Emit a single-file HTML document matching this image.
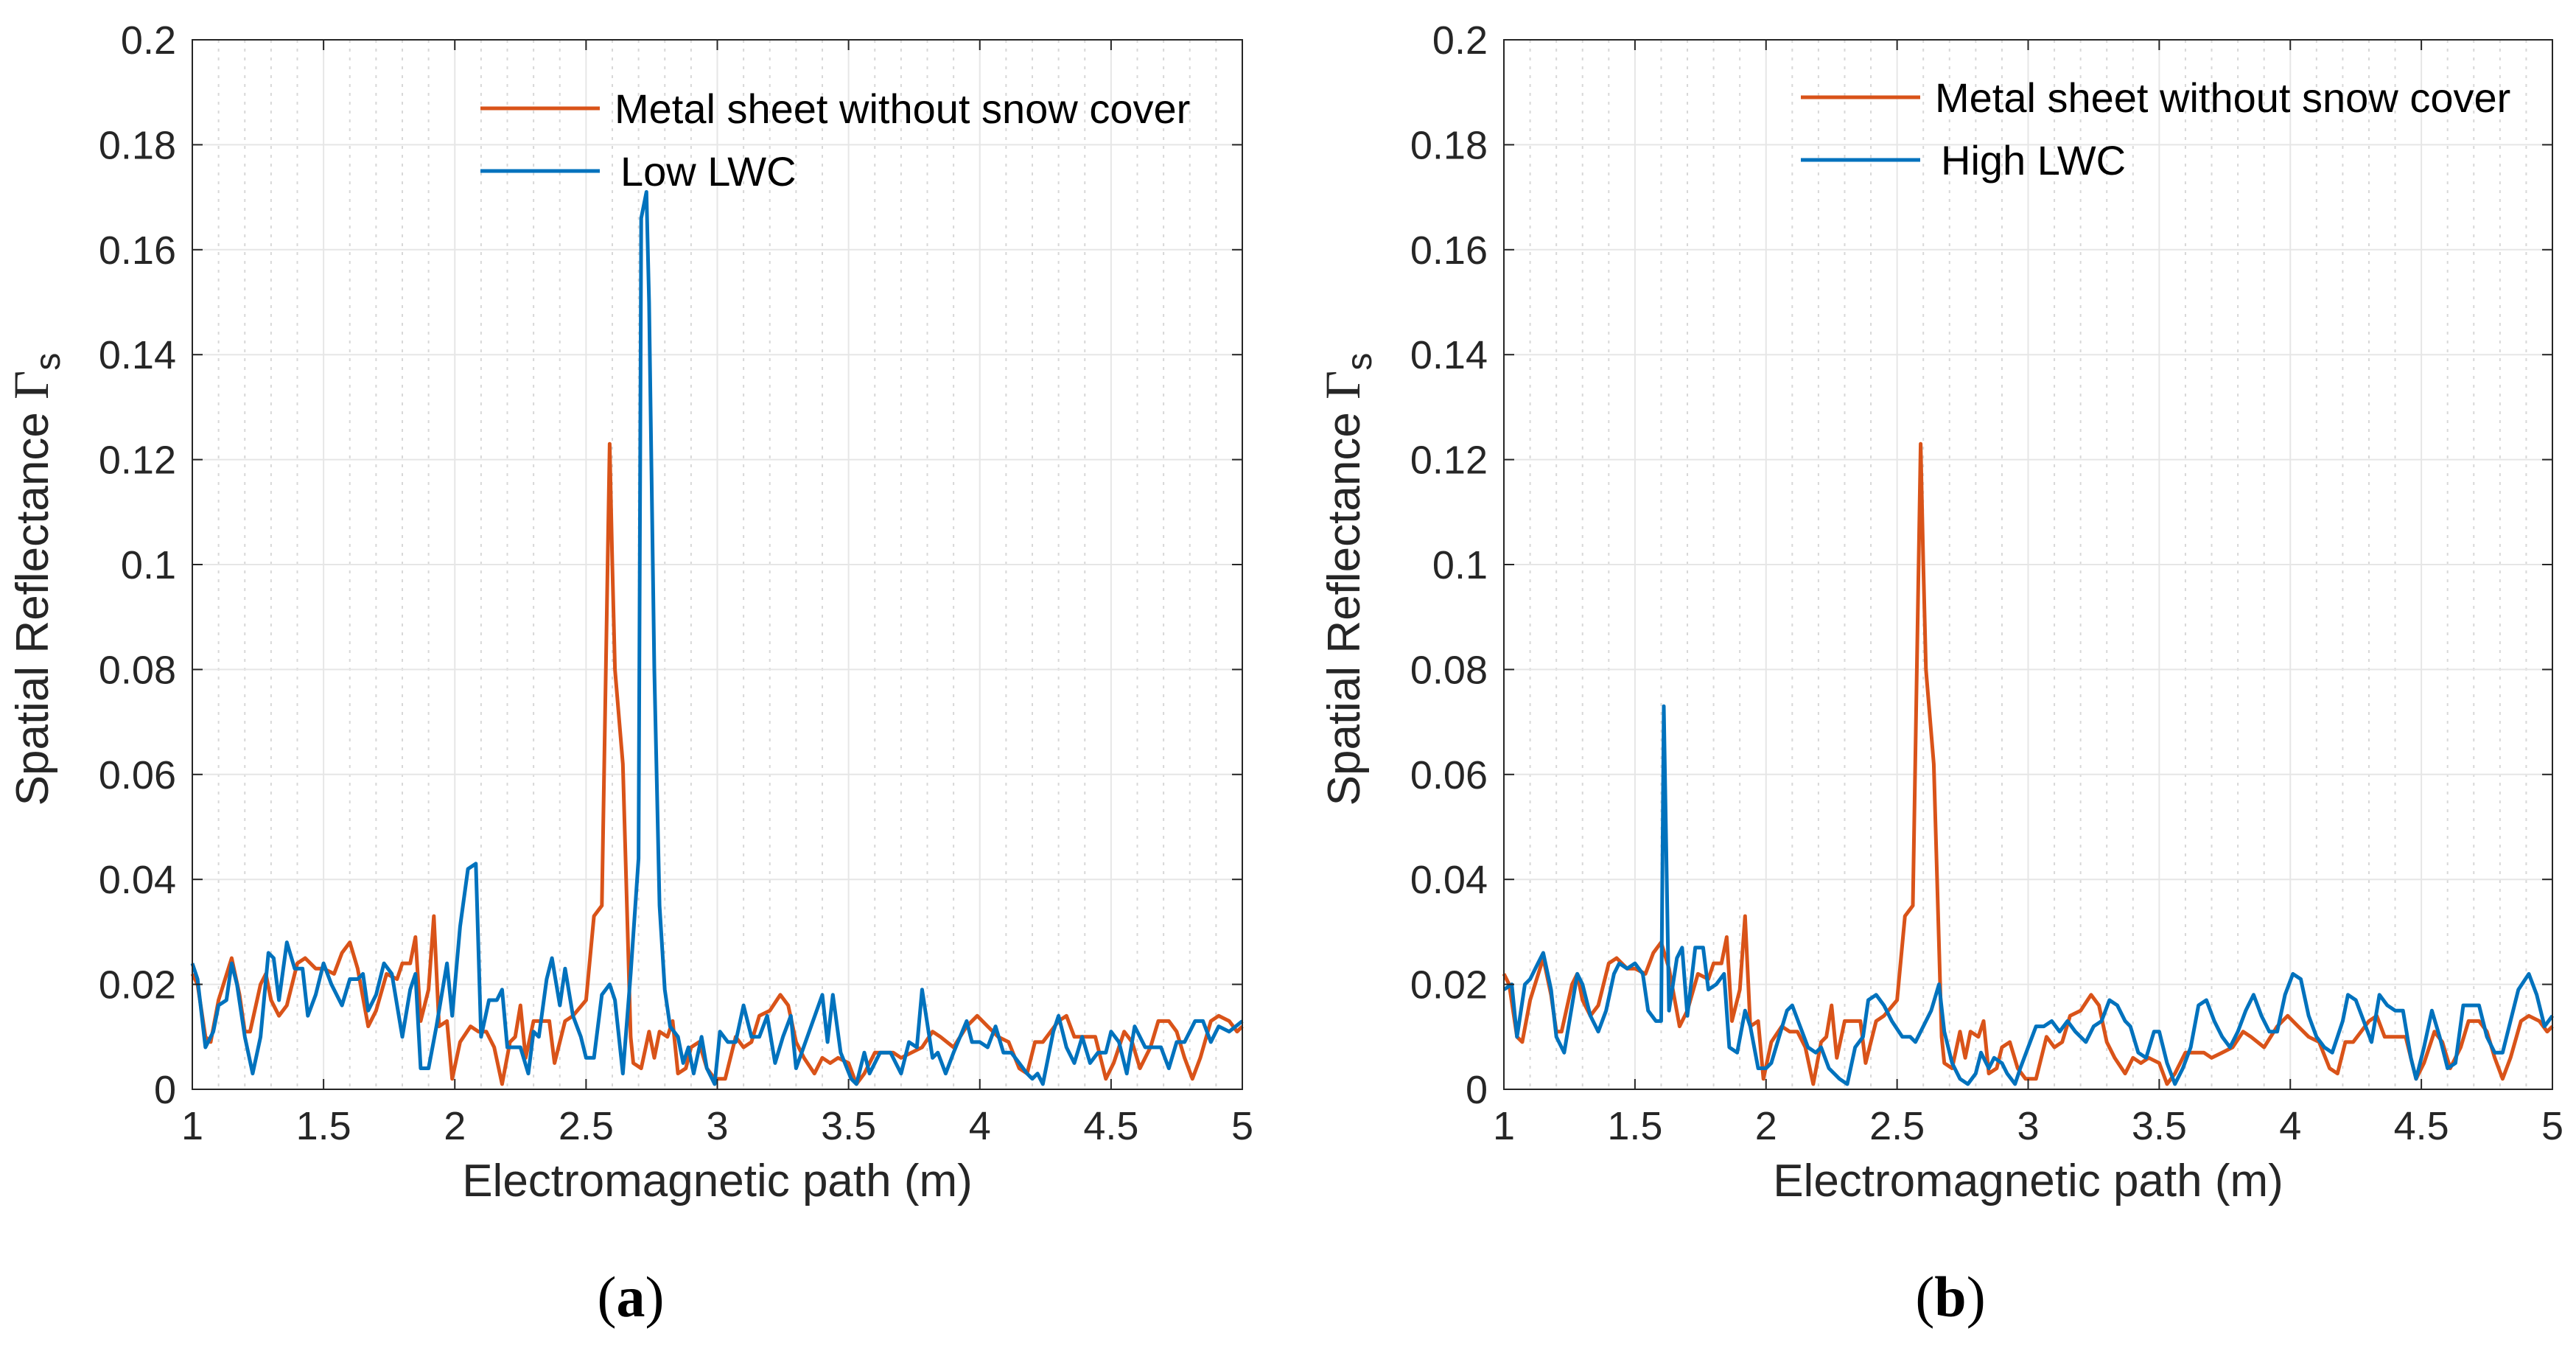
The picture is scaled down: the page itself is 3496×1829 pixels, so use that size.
<!DOCTYPE html>
<html><head><meta charset="utf-8"><style>
html,body{margin:0;padding:0;background:#fff;}
svg{display:block;font-family:"Liberation Sans",Arial,sans-serif;}
</style></head><body>
<svg id="fig" width="3496" height="1829" viewBox="0 0 3496 1829" xmlns="http://www.w3.org/2000/svg">
<rect width="3496" height="1829" fill="#fff"/>
</svg>
<script>
const xTicks=[1,1.5,2,2.5,3,3.5,4,4.5,5];
const xTickLabels=["1","1.5","2","2.5","3","3.5","4","4.5","5"];
const yTicks=[0,0.02,0.04,0.06,0.08,0.1,0.12,0.14,0.16,0.18,0.2];
const yTickLabels=["0","0.02","0.04","0.06","0.08","0.1","0.12","0.14","0.16","0.18","0.2"];

const metalX=[1.0,1.02,1.05,1.07,1.1,1.15,1.18,1.2,1.22,1.26,1.28,1.3,1.33,1.36,1.4,1.43,1.47,1.5,1.54,1.57,1.6,1.63,1.67,1.7,1.74,1.78,1.8,1.83,1.85,1.87,1.9,1.92,1.94,1.97,1.99,2.02,2.06,2.09,2.12,2.15,2.18,2.21,2.23,2.25,2.27,2.3,2.33,2.36,2.38,2.42,2.45,2.5,2.53,2.56,2.59,2.6,2.61,2.64,2.67,2.68,2.71,2.74,2.76,2.78,2.81,2.83,2.85,2.88,2.9,2.93,2.96,2.99,3.03,3.07,3.1,3.13,3.16,3.2,3.24,3.27,3.3,3.33,3.37,3.4,3.43,3.46,3.5,3.53,3.56,3.6,3.64,3.67,3.7,3.74,3.78,3.82,3.85,3.9,3.95,3.99,4.03,4.07,4.11,4.15,4.18,4.21,4.24,4.27,4.3,4.33,4.36,4.4,4.44,4.48,4.51,4.55,4.58,4.61,4.65,4.68,4.72,4.75,4.78,4.81,4.84,4.88,4.91,4.95,4.98,5.0];
const metalY=[0.022,0.020,0.010,0.009,0.017,0.025,0.018,0.011,0.011,0.020,0.022,0.017,0.014,0.016,0.024,0.025,0.023,0.023,0.022,0.026,0.028,0.023,0.012,0.015,0.022,0.021,0.024,0.024,0.029,0.013,0.019,0.033,0.012,0.013,0.002,0.009,0.012,0.011,0.011,0.008,0.001,0.009,0.010,0.016,0.006,0.013,0.013,0.013,0.005,0.013,0.014,0.017,0.033,0.035,0.123,0.100,0.080,0.062,0.010,0.005,0.004,0.011,0.006,0.011,0.010,0.013,0.003,0.004,0.008,0.009,0.004,0.002,0.002,0.010,0.008,0.009,0.014,0.015,0.018,0.016,0.009,0.006,0.003,0.006,0.005,0.006,0.005,0.001,0.003,0.007,0.007,0.007,0.006,0.007,0.008,0.011,0.010,0.008,0.012,0.014,0.012,0.010,0.009,0.004,0.003,0.009,0.009,0.011,0.013,0.014,0.010,0.010,0.010,0.002,0.005,0.011,0.009,0.004,0.008,0.013,0.013,0.011,0.006,0.002,0.006,0.013,0.014,0.013,0.011,0.012];

const lowX=[1.0,1.02,1.05,1.08,1.1,1.13,1.15,1.17,1.2,1.23,1.26,1.29,1.31,1.33,1.36,1.39,1.42,1.44,1.47,1.5,1.53,1.57,1.6,1.63,1.65,1.67,1.7,1.73,1.76,1.8,1.83,1.85,1.87,1.9,1.93,1.97,1.99,2.02,2.05,2.08,2.1,2.13,2.16,2.18,2.2,2.23,2.25,2.28,2.3,2.32,2.35,2.37,2.4,2.42,2.45,2.48,2.5,2.53,2.56,2.59,2.61,2.64,2.67,2.7,2.71,2.73,2.74,2.76,2.78,2.8,2.82,2.85,2.87,2.89,2.91,2.94,2.96,2.99,3.01,3.04,3.07,3.1,3.13,3.16,3.19,3.22,3.25,3.28,3.3,3.35,3.4,3.42,3.44,3.47,3.51,3.53,3.56,3.58,3.62,3.66,3.7,3.73,3.76,3.78,3.82,3.84,3.87,3.9,3.95,3.97,4.0,4.03,4.06,4.09,4.12,4.15,4.18,4.2,4.22,4.24,4.28,4.3,4.33,4.36,4.39,4.42,4.45,4.48,4.5,4.53,4.56,4.59,4.63,4.66,4.69,4.72,4.75,4.78,4.82,4.85,4.88,4.91,4.95,5.0];
const lowY=[0.024,0.021,0.008,0.011,0.016,0.017,0.024,0.020,0.010,0.003,0.010,0.026,0.025,0.017,0.028,0.023,0.023,0.014,0.018,0.024,0.020,0.016,0.021,0.021,0.022,0.015,0.018,0.024,0.022,0.010,0.019,0.022,0.004,0.004,0.012,0.024,0.014,0.031,0.042,0.043,0.010,0.017,0.017,0.019,0.008,0.008,0.008,0.003,0.011,0.010,0.021,0.025,0.016,0.023,0.014,0.010,0.006,0.006,0.018,0.020,0.017,0.003,0.022,0.044,0.166,0.171,0.150,0.080,0.035,0.019,0.012,0.010,0.005,0.008,0.003,0.010,0.004,0.001,0.011,0.009,0.009,0.016,0.010,0.010,0.014,0.005,0.010,0.014,0.004,0.011,0.018,0.009,0.018,0.007,0.002,0.001,0.007,0.003,0.007,0.007,0.003,0.009,0.008,0.019,0.006,0.007,0.003,0.007,0.013,0.009,0.009,0.008,0.012,0.007,0.007,0.005,0.003,0.002,0.003,0.001,0.011,0.014,0.008,0.005,0.010,0.005,0.007,0.007,0.011,0.009,0.003,0.012,0.008,0.008,0.008,0.004,0.009,0.009,0.013,0.013,0.009,0.012,0.011,0.013];

const highX=[1.0,1.03,1.05,1.08,1.1,1.13,1.15,1.18,1.2,1.23,1.26,1.28,1.3,1.33,1.36,1.39,1.42,1.44,1.47,1.5,1.53,1.55,1.58,1.6,1.61,1.63,1.66,1.68,1.7,1.73,1.76,1.78,1.81,1.84,1.86,1.89,1.92,1.94,1.97,2.0,2.02,2.05,2.08,2.1,2.13,2.16,2.19,2.21,2.24,2.28,2.31,2.34,2.37,2.39,2.42,2.45,2.48,2.52,2.55,2.57,2.6,2.63,2.66,2.68,2.71,2.74,2.77,2.8,2.82,2.85,2.87,2.9,2.92,2.95,2.97,3.0,3.03,3.06,3.09,3.12,3.15,3.18,3.22,3.25,3.28,3.31,3.34,3.37,3.39,3.42,3.45,3.48,3.5,3.53,3.56,3.59,3.62,3.65,3.68,3.71,3.74,3.77,3.8,3.83,3.86,3.89,3.92,3.95,3.98,4.01,4.04,4.07,4.1,4.13,4.16,4.2,4.22,4.25,4.28,4.31,4.34,4.37,4.4,4.43,4.46,4.48,4.51,4.54,4.57,4.6,4.63,4.66,4.69,4.72,4.75,4.78,4.81,4.84,4.87,4.91,4.94,4.97,5.0];
const highY=[0.019,0.020,0.010,0.020,0.021,0.024,0.026,0.019,0.010,0.007,0.016,0.022,0.020,0.014,0.011,0.015,0.022,0.024,0.023,0.024,0.022,0.015,0.013,0.013,0.073,0.015,0.025,0.027,0.014,0.027,0.027,0.019,0.020,0.022,0.008,0.007,0.015,0.012,0.004,0.004,0.005,0.010,0.015,0.016,0.012,0.008,0.007,0.008,0.004,0.002,0.001,0.008,0.010,0.017,0.018,0.016,0.013,0.010,0.010,0.009,0.012,0.015,0.020,0.011,0.005,0.002,0.001,0.003,0.007,0.004,0.006,0.005,0.003,0.001,0.004,0.008,0.012,0.012,0.013,0.011,0.013,0.011,0.009,0.012,0.013,0.017,0.016,0.013,0.012,0.007,0.006,0.011,0.011,0.005,0.001,0.004,0.008,0.016,0.017,0.013,0.010,0.008,0.011,0.015,0.018,0.014,0.011,0.011,0.018,0.022,0.021,0.014,0.010,0.008,0.007,0.013,0.018,0.017,0.013,0.009,0.018,0.016,0.015,0.015,0.006,0.002,0.008,0.015,0.010,0.004,0.005,0.016,0.016,0.016,0.010,0.007,0.007,0.013,0.019,0.022,0.018,0.012,0.014];

const NS="http://www.w3.org/2000/svg";
const svg=document.getElementById('fig');
function mk(tag,attrs,parent,text){const e=document.createElementNS(NS,tag);for(const k in attrs)e.setAttribute(k,attrs[k]);if(text!==undefined)e.textContent=text;(parent||svg).appendChild(e);return e;}

function panel(L,R,T,B,blueX,blueY,blueName,legX,legY,caption,capX){
  const g=mk('g',{});
  
  
  const sx=v=>L+(v-1)/4*(R-L);
  const sy=v=>B-v/0.2*(B-T);
  for(let i=1;i<40;i++){const v=1+i*0.1;if(i%5===0)continue;
    const l=mk('line',{x1:sx(v),x2:sx(v),y1:T,y2:B,stroke:'#d8d8d8','stroke-width':2,'stroke-dasharray':'4,8'},g);
    
    }
  xTicks.forEach(v=>{const l=mk('line',{x1:sx(v),x2:sx(v),y1:T,y2:B,stroke:'#e6e6e6','stroke-width':2},g);
    
    });
  yTicks.forEach(v=>{const l=mk('line',{x1:L,x2:R,y1:sy(v),y2:sy(v),stroke:'#e6e6e6','stroke-width':2},g);
    
    });
  function line(xs,ys,color,name){
    let d='';xs.forEach((x,i)=>{d+=(i?'L':'M')+sx(x).toFixed(1)+','+sy(ys[i]).toFixed(1);});
    const p=mk('path',{d:d,fill:'none',stroke:color,'stroke-width':5,'stroke-linejoin':'round'},g);
    
    
  }
  line(metalX,metalY,'#D95319','metal-sheet-line');
  line(blueX,blueY,'#0072BD',blueName.toLowerCase().replace(' ','-')+'-line');
  const fr=mk('rect',{x:L,y:T,width:R-L,height:B-T,fill:'none',stroke:'#262626','stroke-width':2},g);
  
  
  xTicks.forEach((v,i)=>{
    mk('line',{x1:sx(v),x2:sx(v),y1:B,y2:B-14,stroke:'#262626','stroke-width':2},g);
    mk('line',{x1:sx(v),x2:sx(v),y1:T,y2:T+14,stroke:'#262626','stroke-width':2},g);
    const t=mk('text',{x:sx(v),y:B+68,'text-anchor':'middle','font-size':54,fill:'#262626'},g,xTickLabels[i]);
    
    
  });
  yTicks.forEach((v,i)=>{
    mk('line',{x1:L,x2:L+14,y1:sy(v),y2:sy(v),stroke:'#262626','stroke-width':2},g);
    mk('line',{x1:R,x2:R-14,y1:sy(v),y2:sy(v),stroke:'#262626','stroke-width':2},g);
    const t=mk('text',{x:L-22,y:sy(v)+19,'text-anchor':'end','font-size':54,fill:'#262626'},g,yTickLabels[i]);
    
    
  });
  const xt=mk('text',{x:(L+R)/2,y:B+145,'text-anchor':'middle','font-size':62,fill:'#262626'},g,'Electromagnetic path (m)');
  
  
  const yt=mk('text',{transform:`translate(${L-196},${(T+B)/2+20}) rotate(-90)`,'text-anchor':'middle','font-size':62,fill:'#262626'},g);
  
  
  mk('tspan',{},yt,'Spatial Reflectance ');
  mk('tspan',{'font-family':'Liberation Serif, serif','font-size':68},yt,'Γ');
  mk('tspan',{dy:16,'font-size':48},yt,'s');
  [['#D95319','Metal sheet without snow cover',0],['#0072BD',blueName,85]].forEach(([c,txt,dy],i)=>{
    const le=mk('g',{},g);
    
    
    mk('line',{x1:legX,x2:legX+162,y1:legY+dy,y2:legY+dy,stroke:c,'stroke-width':5},le);
    mk('text',{x:legX+182+(i?8:0),y:legY+dy+20,'font-size':56,fill:'#000'},le,txt);
  });
  const cap=mk('text',{x:capX,y:1786,'text-anchor':'middle','font-size':78,'font-family':'Liberation Serif, serif',fill:'#000'},g);
  
  
  mk('tspan',{},cap,'(');
  mk('tspan',{'font-weight':'bold'},cap,caption);
  mk('tspan',{},cap,')');
}
panel(261,1686,54,1478,lowX,lowY,'Low LWC',652,147,'a',856);
panel(2041,3464,54,1478,highX,highY,'High LWC',2444,132,'b',2647);
</script>
</body></html>
